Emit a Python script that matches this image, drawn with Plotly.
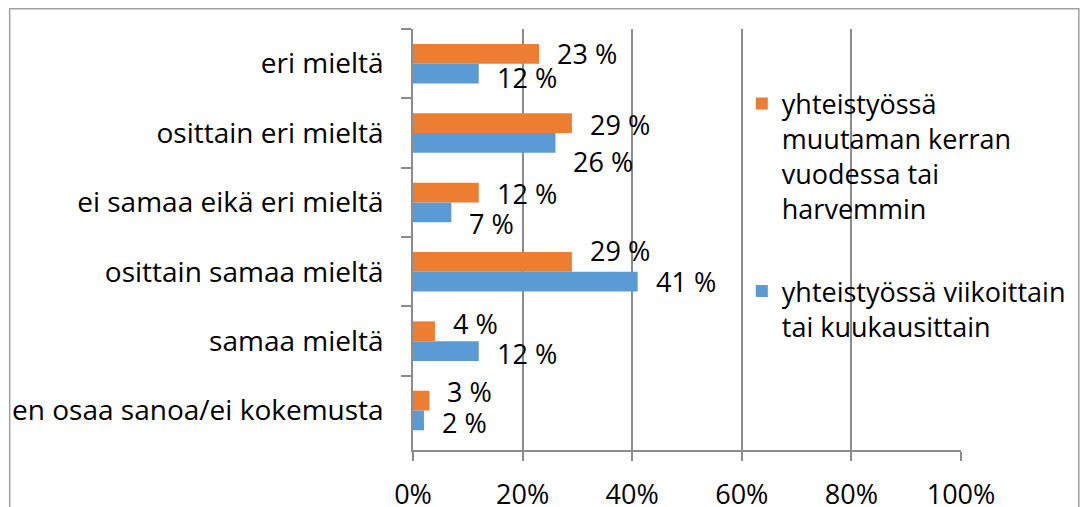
import plotly.graph_objects as go

# Survey answers, listed top to bottom
categories = [
    "eri mieltä",
    "osittain eri mieltä",
    "ei samaa eikä eri mieltä",
    "osittain samaa mieltä",
    "samaa mieltä",
    "en osaa sanoa/ei kokemusta",
]
series_names = [
    "yhteistyössä<br>muutaman kerran<br>vuodessa tai<br>harvemmin",
    "yhteistyössä viikoittain<br>tai kuukausittain",
]
yearly_or_less = [23, 29, 12, 29, 4, 3]
weekly_or_monthly = [12, 26, 7, 41, 12, 2]
x_ticks = [0, 20, 40, 60, 80, 100]
x_tick_labels = ["0%", "20%", "40%", "60%", "80%", "100%"]

# vertical nudges (px) for the value labels so neighbouring labels do not collide
orange_label_shift = [10, 9, 9, 21, 18, 19]
blue_label_shift = [-14, -28, -21, -10, -12, -12]

ORANGE = "#ED7D31"
BLUE = "#5B9BD5"
GRID = "#8C8C8C"
FONT = "Open Sans"
FS = 27

fig = go.Figure()
fig.add_trace(go.Bar(
    y=categories, x=yearly_or_less, orientation="h", name=series_names[0],
    marker=dict(color=ORANGE, line=dict(width=0)), legendgroup="a",
))
fig.add_trace(go.Bar(
    y=categories, x=weekly_or_monthly, orientation="h", name=series_names[1],
    marker=dict(color=BLUE, line=dict(width=0)), legendgroup="b",
))

# value labels next to the bar ends
for vals, shifts in ((yearly_or_less, orange_label_shift),
                     (weekly_or_monthly, blue_label_shift)):
    for cat, v, dy in zip(categories, vals, shifts):
        fig.add_annotation(
            x=v, y=cat, text=f"{v} %", showarrow=False,
            xanchor="left", yanchor="middle", xshift=16, yshift=dy,
            font=dict(family=FONT, size=FS, color="#000"),
        )

# chart frame
fig.add_shape(
    type="rect", xref="paper", yref="paper",
    x0=-0.736, x1=1.215, y0=-0.25, y1=1.048,
    line=dict(color="#A0A0A0", width=1.5), fillcolor="rgba(0,0,0,0)",
    layer="below",
)

fig.update_layout(
    width=1083, height=507,
    margin=dict(l=413, r=120, t=29, b=57),
    paper_bgcolor="white", plot_bgcolor="white",
    barmode="group", bargap=0.43, bargroupgap=0,
    font=dict(family=FONT, size=FS, color="#000"),
    showlegend=True,
    legend=dict(
        x=0.60, y=0.88, xanchor="left", yanchor="top",
        bgcolor="rgba(0,0,0,0)", traceorder="grouped", tracegroupgap=44,
        valign="top", font=dict(family=FONT, size=FS, color="#000"),
    ),
    xaxis=dict(
        range=[0, 100], tickvals=x_ticks, ticktext=x_tick_labels,
        showgrid=True, gridcolor=GRID, gridwidth=1.5,
        ticks="outside", ticklen=9, tickcolor=GRID, tickwidth=1.5,
        showline=True, linecolor=GRID, linewidth=1.5,
        zeroline=False, ticklabelstandoff=11, automargin=False,
    ),
    yaxis=dict(
        categoryorder="array", categoryarray=categories, autorange="reversed",
        tickson="boundaries", ticks="outside", ticklen=10,
        tickcolor=GRID, tickwidth=1.5,
        showline=True, linecolor=GRID, linewidth=1.5,
        showgrid=False, zeroline=False, ticklabelstandoff=22, automargin=False,
        tickfont=dict(family=FONT, size=28, color="#000"),
    ),
)

fig.write_html("out.html")
